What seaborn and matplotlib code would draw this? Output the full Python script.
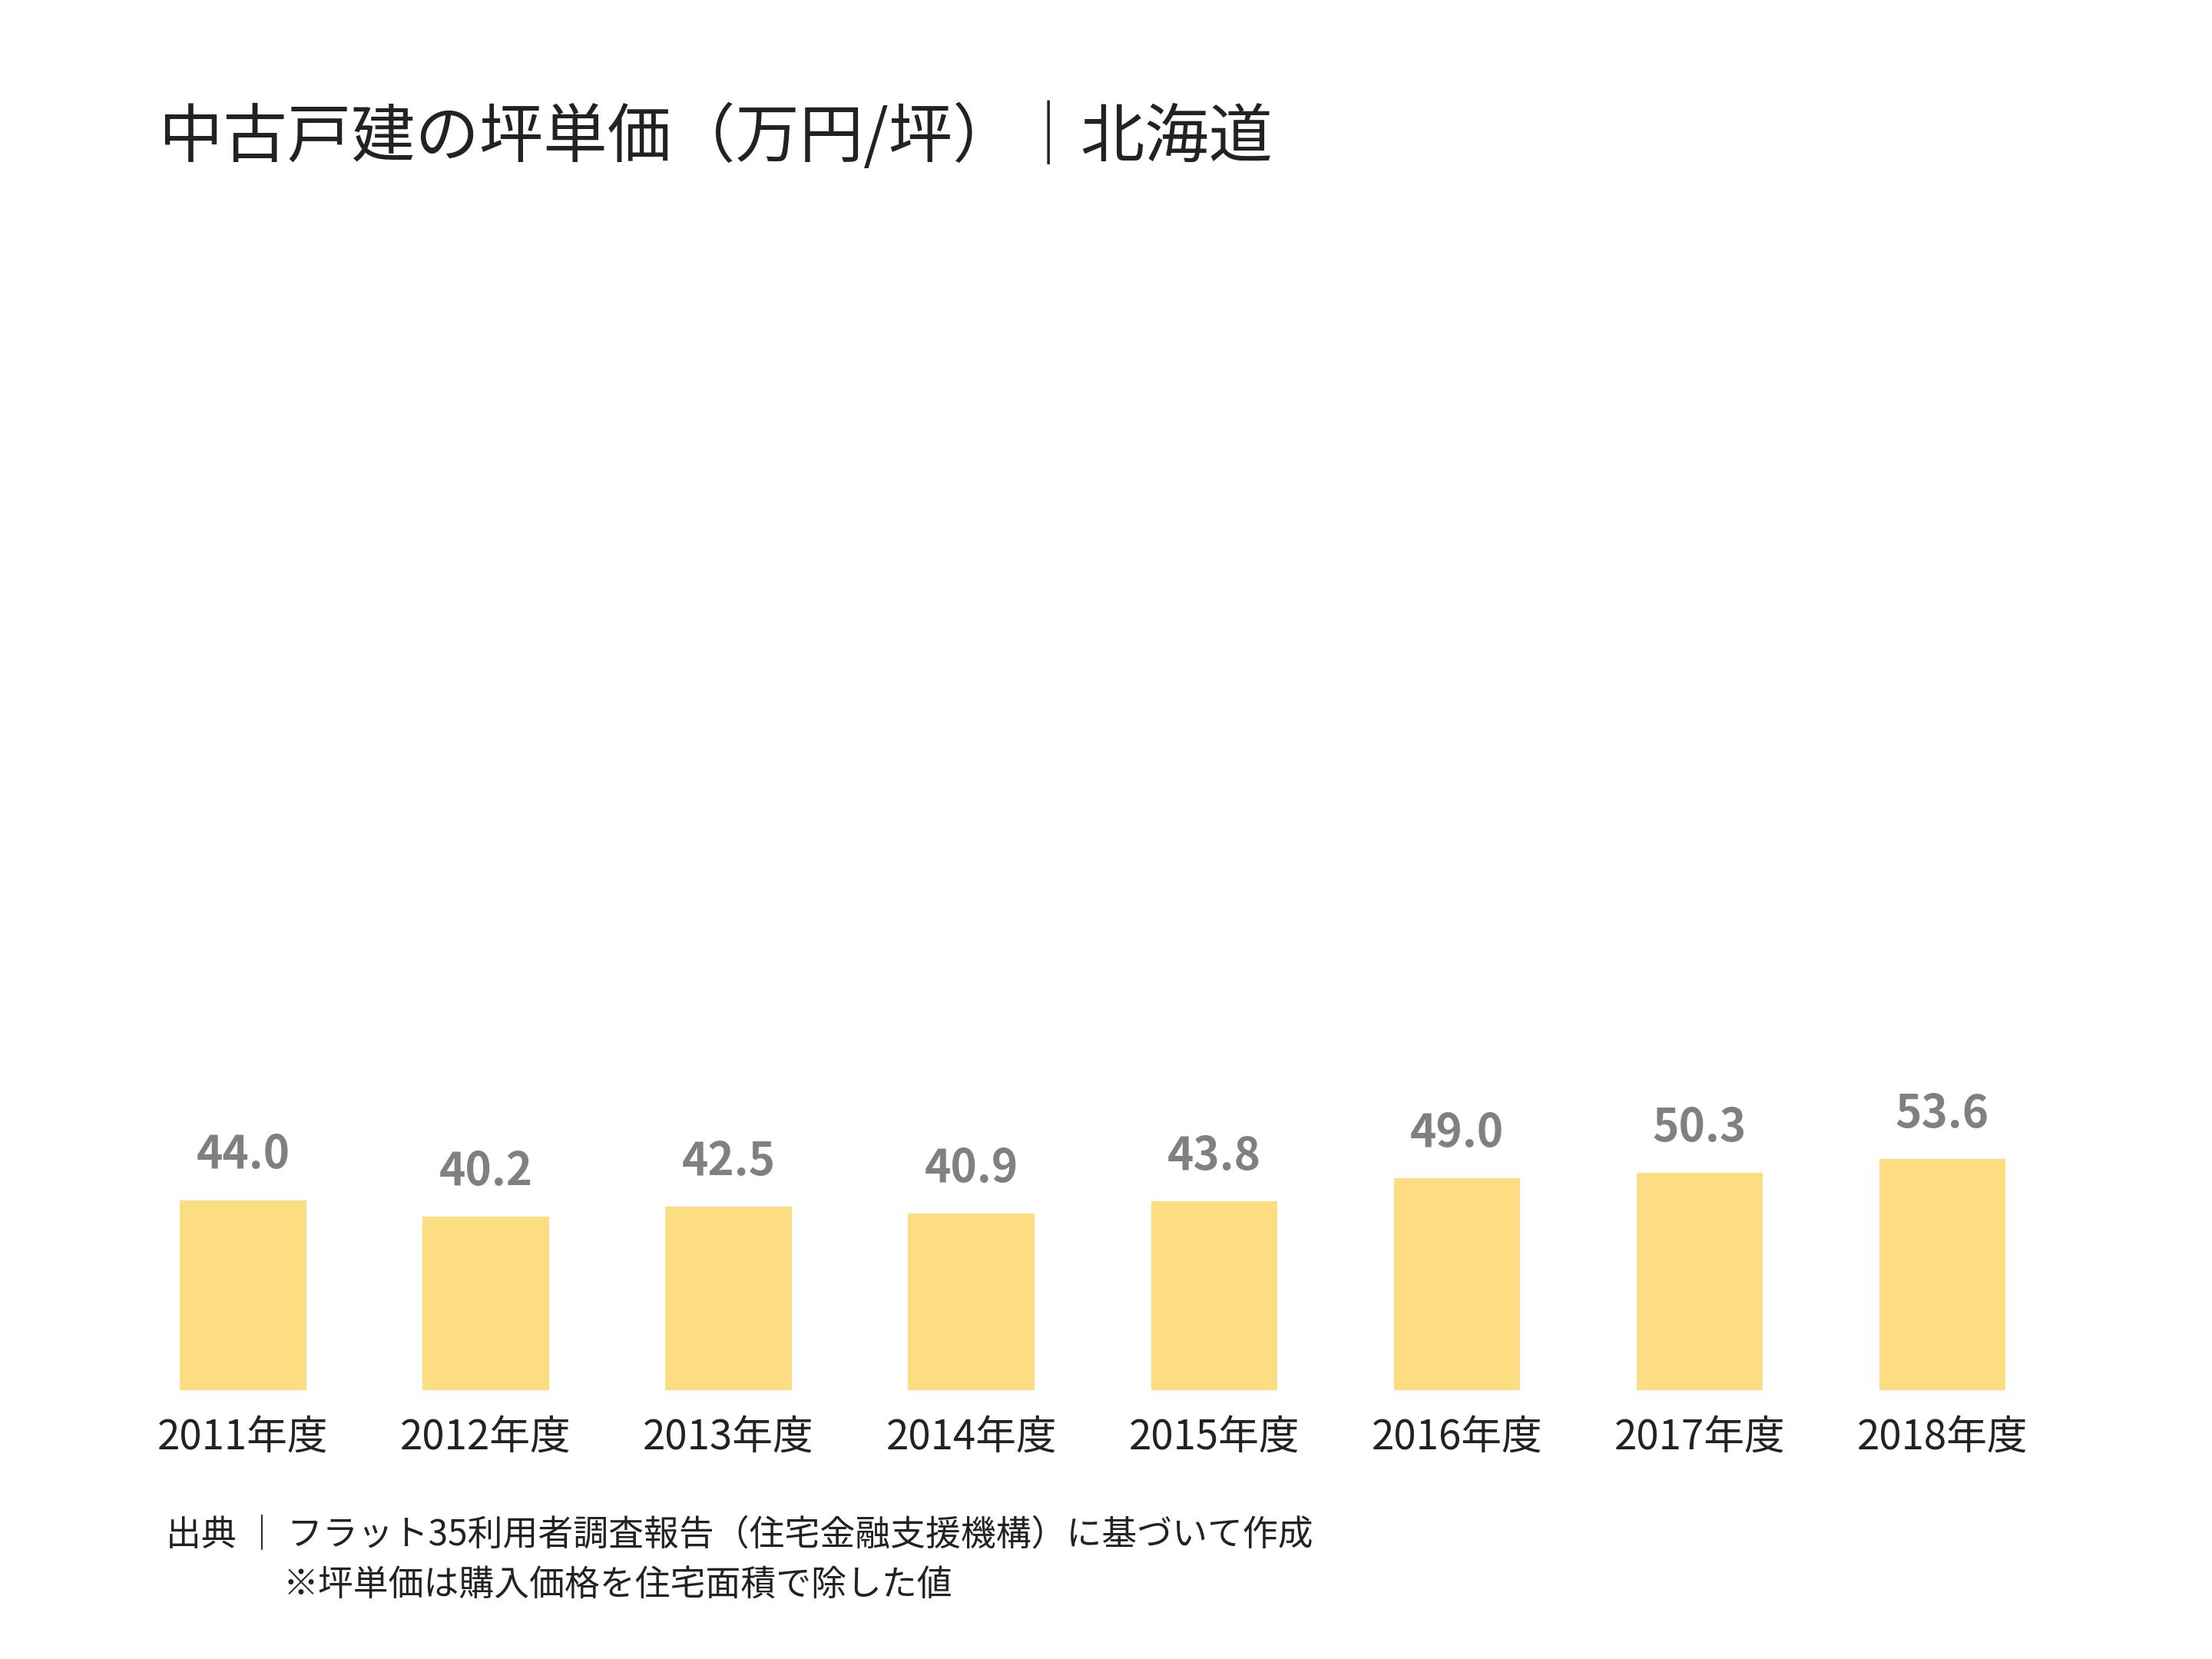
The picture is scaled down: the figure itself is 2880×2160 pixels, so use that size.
import matplotlib
matplotlib.use("Agg")
import matplotlib.pyplot as plt
import seaborn as sns
import pandas as pd

plt.rcParams["font.family"] = ["Noto Sans CJK JP", "DejaVu Sans"]

years = ["2011年度", "2012年度", "2013年度", "2014年度", "2015年度", "2016年度", "2017年度", "2018年度"]
prices = [44.0, 40.2, 42.5, 40.9, 43.8, 49.0, 50.3, 53.6]
title = "中古戸建の坪単価（万円/坪）｜北海道"
source = "出典 ｜ フラット35利用者調査報告（住宅金融支援機構）に基づいて作成"
note = "※坪単価は購入価格を住宅面積で除した値"

df = pd.DataFrame({"year": years, "price": prices})

fig = plt.figure(figsize=(14.4, 10.8), dpi=200)
ax = fig.add_axes([0.055, 0.162, 0.878, 0.69])
sns.barplot(data=df, x="year", y="price", color="#FDDD82", saturation=1, width=0.52, ax=ax)
ax.set_ylim(0, 265)
ax.set_xlabel("")
ax.set_ylabel("")
ax.set_yticks([])
for s in ax.spines.values():
    s.set_visible(False)
ax.tick_params(axis="x", length=0, labelsize=19, pad=12, labelcolor="#222222")
for i, v in enumerate(prices):
    ax.text(i, v + 5, f"{v:.1f}", ha="center", va="bottom", fontsize=21,
            fontweight="bold", color="#808080")

fig.text(0.072, 0.917, title, fontsize=30, color="#222222", va="center")
fig.text(0.075, 0.075, source, fontsize=16.5, color="#222222", va="center")
fig.text(0.128, 0.044, note, fontsize=16.5, color="#222222", va="center")

fig.savefig("out.png", dpi=200, facecolor="white")
